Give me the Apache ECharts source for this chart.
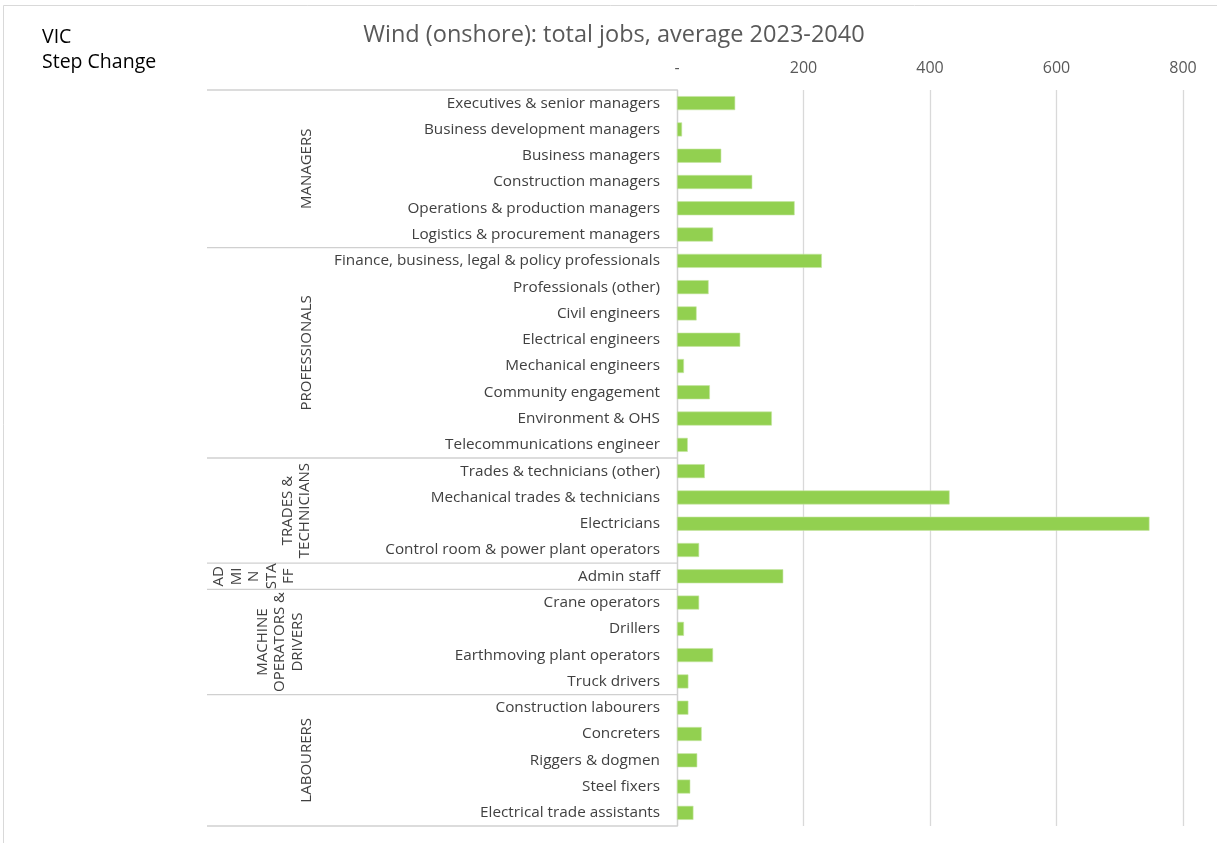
<!DOCTYPE html>
<html>
<head>
<meta charset="utf-8">
<script src="https://cdn.jsdelivr.net/npm/echarts@6/dist/echarts.min.js"></script>
<style>
html,body{margin:0;padding:0;background:#fff;}
#main{width:1217px;height:843px;}
</style>
</head>
<body>
<div id="main"></div>
<script>
// ---- Data ----
var categories = [
  'Executives & senior managers',
  'Business development managers',
  'Business managers',
  'Construction managers',
  'Operations & production managers',
  'Logistics & procurement managers',
  'Finance, business, legal & policy professionals',
  'Professionals (other)',
  'Civil engineers',
  'Electrical engineers',
  'Mechanical engineers',
  'Community engagement',
  'Environment & OHS',
  'Telecommunications engineer',
  'Trades & technicians (other)',
  'Mechanical trades & technicians',
  'Electricians',
  'Control room & power plant operators',
  'Admin staff',
  'Crane operators',
  'Drillers',
  'Earthmoving plant operators',
  'Truck drivers',
  'Construction labourers',
  'Concreters',
  'Riggers & dogmen',
  'Steel fixers',
  'Electrical trade assistants'
];
var jobs = [92, 8, 70, 119, 186, 57, 229, 50, 31, 100, 11, 52, 150, 17,
            44, 431, 747, 35, 168, 35, 11, 57, 18, 18, 39, 32, 21, 26];
var groupNames = ['MANAGERS', 'PROFESSIONALS', 'TRADES &\nTECHNICIANS', 'AD\nMI\nN\nSTA\nFF',
                  'MACHINE\nOPERATORS &\nDRIVERS', 'LABOURERS'];
var groupSizes = [6, 8, 4, 1, 4, 5];
var xTicks = [0, 200, 400, 600, 800];
var titleText = 'Wind (onshore): total jobs, average 2023-2040';
var subtitleText = 'VIC\nStep Change';

// ---- Layout / style (not data) ----
var groupLabelX = [307, 307, 296, 254, 280, 307];
var FONT = '"Open Sans", sans-serif';
var GRID = {left: 677, right: 34, top: 90, bottom: 17};

var chart = echarts.init(document.getElementById('main'));
var option = {
  animation: false,
  backgroundColor: '#fff',
  textStyle: {fontFamily: FONT},
  grid: {left: GRID.left, right: GRID.right, top: GRID.top, bottom: GRID.bottom, containLabel: false},
  xAxis: {
    type: 'value',
    position: 'top',
    min: xTicks[0],
    max: xTicks[xTicks.length - 1],
    interval: xTicks[1] - xTicks[0],
    axisLine: {show: false},
    axisTick: {show: false},
    axisLabel: {
      color: '#595959', fontSize: 16, fontFamily: FONT, margin: 14,
      formatter: function (v) { return v === 0 ? '-' : String(v); }
    },
    splitLine: {show: true, lineStyle: {color: '#d9d9d9', width: 1.3}}
  },
  yAxis: {
    type: 'category',
    inverse: true,
    data: categories,
    axisLine: {show: true, lineStyle: {color: '#d0d0d0', width: 1.3}},
    axisTick: {show: false},
    axisLabel: {color: '#404040', fontSize: 15.3, fontFamily: FONT, margin: 17},
    splitLine: {show: false}
  },
  series: [{
    type: 'bar',
    data: jobs,
    barWidth: 14,
    itemStyle: {color: '#92D050', borderColor: '#c6e6a3', borderWidth: 0.6},
    silent: true
  }]
};
chart.setOption(option);

function drawGroups() {
  var y0 = chart.convertToPixel({yAxisIndex: 0}, 0);
  var y1 = chart.convertToPixel({yAxisIndex: 0}, 1);
  var band = y1 - y0;
  var xAxisX = chart.convertToPixel({xAxisIndex: 0}, 0);
  var leftX = 207;
  var elements = [];
  // outer frame
  elements.push({type: 'rect', shape: {x: 3.5, y: 5.5, width: 1230, height: 860},
    style: {fill: null, stroke: '#d9d9d9', lineWidth: 1}, silent: true});
  // title & subtitle
  elements.push({type: 'text', x: 614, y: 35, silent: true,
    style: {text: titleText, fill: '#595959', font: '23.5px ' + FONT, textAlign: 'center', textVerticalAlign: 'middle'}});
  elements.push({type: 'text', x: 42, y: 50, silent: true,
    style: {text: subtitleText, fill: '#000', font: '19.5px ' + FONT, textAlign: 'left', textVerticalAlign: 'middle', lineHeight: 25}});
  var start = 0;
  for (var g = 0; g <= groupSizes.length; g++) {
    var yb = y0 + (start - 0.5) * band;
    elements.push({type: 'line', silent: true,
      shape: {x1: leftX, y1: yb, x2: xAxisX, y2: yb},
      style: {stroke: '#d0d0d0', lineWidth: 1.3}});
    if (g < groupSizes.length) {
      var yc = y0 + (start + groupSizes[g] / 2 - 0.5) * band;
      elements.push({type: 'text', x: groupLabelX[g], y: yc, rotation: Math.PI / 2, silent: true,
        style: {text: groupNames[g], fill: '#404040', font: '15px ' + FONT,
          textAlign: 'center', textVerticalAlign: 'middle', lineHeight: 17.5}});
      start += groupSizes[g];
    }
  }
  chart.setOption({graphic: {elements: elements}});
}
drawGroups();
</script>
</body>
</html>
